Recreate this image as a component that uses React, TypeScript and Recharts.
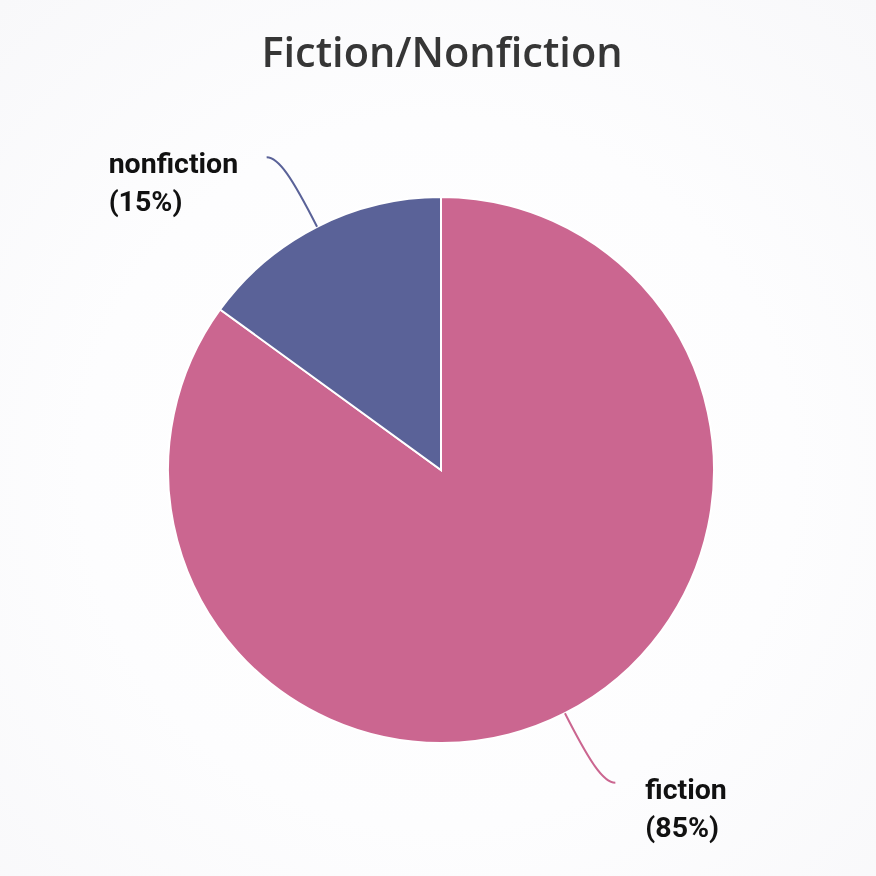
import { PieChart, Pie, Cell } from "recharts"

const categories = ["fiction", "nonfiction"]
const shares = [85, 15]
const sliceColors = ["#cb6690", "#5a6298"]

const data = categories.map((name, i) => ({ name, value: shares[i] }))

const RADIAN = Math.PI / 180

const renderLabel = (props: any) => {
  const { cx, cy, midAngle, outerRadius, name, percent, index } = props
  const cos = Math.cos(-midAngle * RADIAN)
  const sin = Math.sin(-midAngle * RADIAN)
  const sx = cx + outerRadius * cos
  const sy = cy + outerRadius * sin
  const side = cos >= 0 ? 1 : -1
  const ex = sx + 78 * cos + side * 15
  const ey = sy + 78 * sin
  const c1x = sx + 55 * cos
  const c1y = sy + 55 * sin
  const c2x = ex - side * 12
  const c2y = ey
  const pct = Math.round(percent * 100)
  const tx = side > 0 ? ex + 30 : ex - 158
  return (
    <g>
      <path
        d={`M${sx},${sy} C${c1x},${c1y} ${c2x},${c2y} ${ex},${ey}`}
        stroke={sliceColors[index]}
        strokeWidth={2}
        fill="none"
      />
      <text
        x={tx}
        y={ey + 16}
        fill="#111"
        fontFamily="Roboto"
        fontWeight="bold"
        fontSize={28.5}
        textAnchor="start"
      >
        <tspan x={tx} dy={0}>{name}</tspan>
        <tspan x={tx} dy={38}>({pct}%)</tspan>
      </text>
    </g>
  )
}

export default function App() {
  return (
    <div
      style={{
        position: "fixed",
        left: 0,
        top: 0,
        width: 876,
        height: 876,
        background: "radial-gradient(circle at 50% 54%, #ffffff 0%, #fdfdfe 55%, #f8f8fa 100%)",
      }}
    >
      <div
        style={{
          position: "absolute",
          top: 25,
          left: 0,
          width: 884,
          textAlign: "center",
          fontFamily: "'Open Sans'",
          fontWeight: 600,
          fontSize: 41.5,
          color: "#363636",
          lineHeight: "52px",
        }}
      >
        Fiction/Nonfiction
      </div>
      <div style={{ position: "absolute", left: 0, top: 0 }}>
        <PieChart width={876} height={876} margin={{ top: 0, right: 0, bottom: 0, left: 0 }}>
          <Pie
            data={data}
            dataKey="value"
            nameKey="name"
            cx={441}
            cy={470}
            outerRadius={273}
            startAngle={90}
            endAngle={-270}
            stroke="#ffffff"
            strokeWidth={2}
            label={renderLabel}
            labelLine={false}
            isAnimationActive={false}
          >
            {data.map((d, i) => (
              <Cell key={d.name} fill={sliceColors[i]} />
            ))}
          </Pie>
        </PieChart>
      </div>
    </div>
  )
}
